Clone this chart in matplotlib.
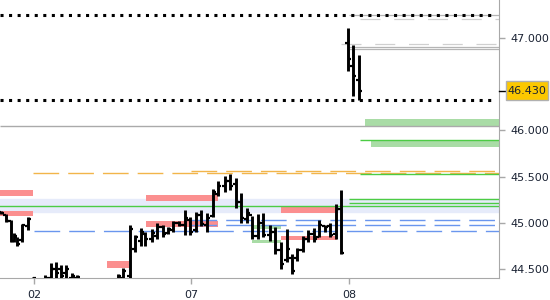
import matplotlib.pyplot as plt
from matplotlib.patches import Rectangle

# bar slot positions (slot 0 = "02", 30 = "07", 60 = "08")
slots = [-6.3, -5.3, -4.4, -3.8, -3.2, -2.3, -1.1,
         -0.2, 2.1, 3.2, 4.2, 5.1, 6.1, 7.2, 8.2,
         16.0, 17.0, 18.3, 19.2, 20.4, 21.1, 22.5, 23.4, 24.6, 25.5, 26.5, 27.6,
         28.8, 29.7, 30.9, 31.8, 33.0, 34.1, 35.0, 36.4, 37.3, 38.5, 39.4, 40.6,
         41.5, 42.7, 43.6, 45.0, 45.9, 47.0, 48.2, 49.1, 50.1, 51.2, 52.2, 53.3,
         54.3, 55.4, 56.4, 57.5, 58.5, 59.8, 60.8, 61.9]
highs = [45.13, 45.09, 45.03, 44.89, 44.85, 44.99, 45.06,
         44.41, 44.43, 44.56, 44.57, 44.54, 44.54, 44.45, 44.43,
         44.44, 44.51, 44.98, 44.87, 44.94, 44.90, 44.93, 45.00, 44.98, 44.95, 45.02, 45.02,
         45.14, 45.06, 45.12, 45.14, 45.10, 45.37, 45.45, 45.51, 45.53, 45.48, 45.32, 45.16,
         45.07, 45.09, 45.11, 44.98, 44.95, 44.79, 44.93, 44.66, 44.73, 44.86, 44.92, 44.94,
         45.03, 44.98, 45.00, 45.20, 45.36, 47.11, 46.93, 46.82]
lows = [45.09, 45.01, 44.79, 44.79, 44.75, 44.79, 44.92,
        44.30, 44.32, 44.35, 44.38, 44.38, 44.36, 44.35, 44.36,
        44.35, 44.36, 44.38, 44.68, 44.75, 44.75, 44.79, 44.82, 44.84, 44.88, 44.90, 44.96,
        44.87, 44.87, 44.90, 44.96, 44.90, 45.06, 45.29, 45.33, 45.36, 45.16, 45.00, 45.00,
        44.82, 44.82, 44.84, 44.80, 44.66, 44.50, 44.57, 44.44, 44.59, 44.68, 44.79, 44.79,
        44.84, 44.90, 44.84, 44.82, 44.66, 46.64, 46.37, 46.33]
opens = [45.12, 45.08, 45.02, 44.80, 44.84, 44.81, 44.96,
         44.35, 44.36, 44.40, 44.50, 44.50, 44.45, 44.40, 44.40,
         44.38, 44.40, 44.42, 44.72, 44.80, 44.88, 44.82, 44.86, 44.95, 44.89, 44.92, 45.00,
         44.97, 45.03, 44.92, 45.08, 44.98, 45.07, 45.31, 45.40, 45.45, 45.42, 45.22, 45.04,
         45.08, 44.86, 45.00, 44.87, 44.90, 44.70, 44.60, 44.62, 44.62, 44.70, 44.82, 44.88,
         44.84, 44.96, 44.96, 44.88, 45.15, 46.95, 46.70, 46.55]
closes = [45.11, 45.02, 44.80, 44.86, 44.77, 44.97, 45.04,
          44.40, 44.40, 44.50, 44.45, 44.42, 44.50, 44.42, 44.41,
          44.42, 44.48, 44.93, 44.84, 44.90, 44.82, 44.89, 44.95, 44.88, 44.93, 45.00, 44.97,
          45.05, 44.90, 45.08, 44.99, 45.05, 45.33, 45.40, 45.45, 45.40, 45.22, 45.05, 45.10,
          44.86, 45.00, 44.87, 44.90, 44.70, 44.55, 44.72, 44.48, 44.70, 44.82, 44.88, 44.82,
          44.98, 44.95, 44.87, 45.15, 44.67, 46.77, 46.59, 46.43]

last_price = 46.43
x_ticks = [0, 30, 60]
x_labels = ['02', '07', '08']
y_ticks = [44.5, 45.0, 45.5, 46.0, 47.0]

# zones: (x start, x end, low, high)
red_zones = [(-6.5, -0.2, 45.29, 45.36), (-6.5, -0.2, 45.07, 45.13),
             (13.9, 18.1, 44.51, 44.58), (21.3, 35.05, 45.24, 45.305),
             (21.3, 35.05, 44.955, 45.016), (47.05, 57.7, 45.107, 45.178),
             (47.05, 57.7, 44.807, 44.86)]
green_zones = [(41.5, 47.05, 44.93, 44.97), (41.5, 47.05, 44.775, 44.81),
               (63.0, 89.0, 46.05, 46.12), (64.2, 89.0, 45.82, 45.89)]
band = (45.12, 45.26)

# lines: (level, x start)
green_lines = [(45.18, -7), (45.21, 60.0), (45.26, 60.0), (45.53, 62.1), (45.90, 62.1)]
orange_dash = [(45.54, -0.2), (45.565, 30.0)]
blue_dash = [(44.915, 0.0), (44.977, 30.0), (45.03, 30.0)]
gray_dash = [(47.21, 62.1), (46.94, 58.5)]
gray_solid = [(46.88, 60.0), (46.91, 60.0), (47.25, 60.0)]
dotted_levels = [47.25, 46.33]
sep_level = 46.05

XL, XR = -6.48, 88.67

fig = plt.figure(figsize=(5.5, 3), dpi=100)
ax = fig.add_axes([0.0, 0.0717, 0.908, 0.9283])
ax.set_xlim(XL, XR)
ax.set_ylim(44.395, 47.415)

ax.axhspan(band[0], band[1], color='#e6ebfa', zorder=0)
for x0, x1, lo, hi in red_zones:
    ax.add_patch(Rectangle((x0, lo), x1 - x0, hi - lo, color='#fb8f8f', lw=0, zorder=1))
for x0, x1, lo, hi in green_zones:
    ax.add_patch(Rectangle((x0, lo), x1 - x0, hi - lo, color='#a9dca6', lw=0, zorder=1))

ax.hlines(sep_level, XL, XR, color='#aaaaaa', lw=1, zorder=1)
for lvl, x0 in gray_solid:
    ax.hlines(lvl, x0, XR, color='#b5b5b5', lw=0.9, zorder=1)
for lvl, x0 in gray_dash:
    ax.hlines(lvl, x0, XR, color='#d0d0d0', lw=0.9, linestyles=(0, (16, 11)), zorder=1)
for lvl, x0 in orange_dash:
    ax.hlines(lvl, x0, XR, color='#f2b54a', lw=1, linestyles=(0, (18.5, 6.5)), zorder=2)
for lvl, x0 in blue_dash:
    ax.hlines(lvl, x0, XR, color='#6a96ee', lw=1, linestyles=(0, (18.5, 6.5)), zorder=2)
for lvl, x0 in green_lines:
    ax.hlines(lvl, x0, XR, color='#4ccc44', lw=1, zorder=2)
for lvl in dotted_levels:
    ax.hlines(lvl, XL, XR - 0.8, color='black', lw=2.2, linestyles=(0, (1, 1.8)), zorder=3)

# OHLC bars
ax.vlines(slots, lows, highs, color='black', lw=2.1, zorder=4)
ax.hlines(opens, [s - 0.55 for s in slots], slots, color='black', lw=1.6, zorder=4)
ax.hlines(closes, slots, [s + 0.55 for s in slots], color='black', lw=1.6, zorder=4)

for side in ['left', 'top']:
    ax.spines[side].set_visible(False)
for side in ['right', 'bottom']:
    ax.spines[side].set_color('#a8a8a8')
ax.yaxis.tick_right()
ax.set_yticks(y_ticks)
ax.set_yticklabels(['%.3f' % v for v in y_ticks])
ax.set_xticks(x_ticks)
ax.set_xticklabels(x_labels)
ax.tick_params(axis='both', colors='#a8a8a8', labelcolor='#1a2233', labelsize=8, length=4, width=1)
ax.tick_params(axis='x', pad=4)
ax.tick_params(axis='y', pad=4)

# current price marker
ytr = ax.get_yaxis_transform()
ax.plot([1.0, 1.012], [last_price, last_price], transform=ytr,
        color='black', lw=1, clip_on=False, zorder=5)
ax.add_patch(Rectangle((1.0126, last_price - 0.104), 0.0841, 0.208, transform=ytr,
                       fc='#fcc800', ec='#b0b0b0', lw=1, clip_on=False, zorder=5))
ax.text(1.0546, last_price, '%.3f' % last_price, transform=ytr,
        ha='center', va='center', fontsize=8, color='#1a2233', zorder=6)

fig.savefig('out.png', dpi=100)
